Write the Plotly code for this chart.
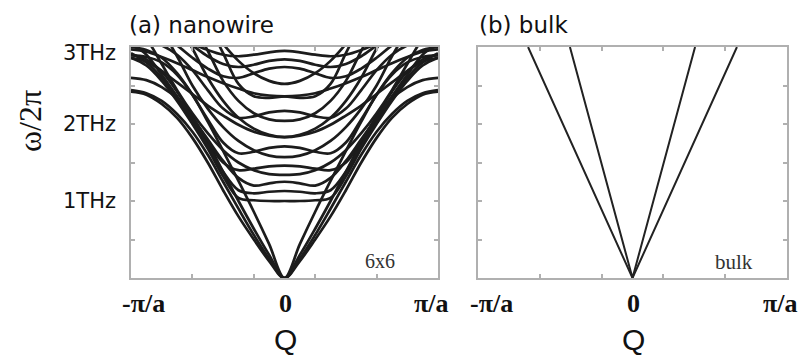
import plotly.graph_objects as go

# ---------------- data ----------------
# Wave vector (half zone, units of pi/a); branches are symmetric in Q
q_half = [0.0, 0.1, 0.2, 0.3, 0.4, 0.5, 0.6, 0.7, 0.8, 0.9, 1.0]

# (a) nanowire 6x6 : frequencies (THz) read at q_half
acoustic_1 = [0.00, 0.22, 0.50, 0.80, 1.14, 1.50, 1.82, 2.08, 2.26, 2.38, 2.42]
acoustic_1b = [0.00, 0.25, 0.56, 0.90, 1.25, 1.60, 1.90, 2.13, 2.30, 2.40, 2.44]
acoustic_2 = [0.00, 0.30, 0.64, 1.00, 1.38, 1.76, 2.08, 2.33, 2.48, 2.57, 2.60]
acoustic_3 = [0.00, 0.44, 0.86, 1.26, 1.65, 2.03, 2.38, 2.64, 2.80, 2.87, 2.89]
flat_1 = [1.00, 1.00, 1.01, 1.04, 1.32, 1.68, 2.00, 2.30, 2.56, 2.76, 2.86]
flat_2 = [1.71, 1.69, 1.64, 1.62, 1.76, 2.06, 2.38, 2.66, 2.86, 2.96, 3.00]
flat_3 = [2.17, 2.15, 2.10, 2.08, 2.20, 2.44, 2.70, 2.90, 3.02, 3.08, 3.10]
flat_4 = [1.46, 1.45, 1.42, 1.40, 1.50, 1.78, 2.10, 2.42, 2.68, 2.84, 2.90]
flat_5 = [1.13, 1.12, 1.10, 1.14, 1.38, 1.72, 2.04, 2.34, 2.60, 2.80, 2.92]
shallow_1 = [1.83, 1.85, 1.90, 1.99, 2.11, 2.24, 2.39, 2.54, 2.69, 2.81, 2.86]
shallow_2 = [2.36, 2.37, 2.40, 2.46, 2.53, 2.61, 2.70, 2.79, 2.87, 2.94, 2.97]
steep_a = [2.52, 2.56, 2.66, 2.82, 3.04, 3.30, 3.50, 3.60, 3.65, 3.70, 3.70]
steep_b = [2.36, 2.34, 2.36, 2.52, 2.92, 3.30, 3.55, 3.65, 3.70, 3.70, 3.70]
steep_c = [2.04, 2.06, 2.14, 2.30, 2.56, 2.95, 3.30, 3.50, 3.60, 3.65, 3.70]
steep_d = [1.83, 1.86, 1.94, 2.08, 2.30, 2.60, 2.98, 3.30, 3.50, 3.60, 3.65]
steep_e = [1.57, 1.59, 1.66, 1.78, 1.96, 2.20, 2.50, 2.88, 3.20, 3.40, 3.50]
steep_f = [1.34, 1.35, 1.40, 1.50, 1.66, 1.88, 2.14, 2.44, 2.78, 3.10, 3.25]
steep_g = [1.25, 1.23, 1.20, 1.30, 1.52, 1.80, 2.08, 2.36, 2.64, 2.90, 3.05]
top_1 = [2.74, 2.72, 2.66, 2.60, 2.62, 2.72, 2.86, 3.02, 3.15, 3.20, 3.20]
top_2 = [2.84, 2.82, 2.77, 2.74, 2.78, 2.88, 3.02, 3.15, 3.25, 3.30, 3.30]
top_3 = [2.95, 2.93, 2.90, 2.88, 2.90, 2.96, 3.04, 3.12, 3.20, 3.25, 3.25]

nanowire_branches = [
    acoustic_1, acoustic_1b, acoustic_2, acoustic_3,
    flat_1, flat_2, flat_3, flat_4, flat_5, shallow_1, shallow_2,
    steep_a, steep_b, steep_c, steep_d, steep_e, steep_f, steep_g,
    top_1, top_2, top_3,
]

# (b) bulk : linear branches through the origin
bulk_q_ta = [-0.676, 0.0, 0.676]
bulk_ta = [3.0, 0.0, 3.0]
bulk_q_la = [-0.405, 0.0, 0.405]
bulk_la = [3.0, 0.0, 3.0]

y_tick_vals = [0.5, 1.0, 1.5, 2.0, 2.5, 3.0]
y_tick_text = ["1THz", "2THz", "3THz"]
x_tick_vals = [-1.0, -0.6, -0.2, 0.2, 0.6, 1.0]
x_tick_text = ["-\u03c0/a", "0", "\u03c0/a"]

# ---------------- figure ----------------
W, H = 801, 358
fig = go.Figure()

q_full = [-v for v in q_half[::-1]] + q_half[1:]
for br in nanowire_branches:
    fig.add_trace(go.Scatter(
        x=q_full, y=br[::-1] + br[1:], mode="lines",
        line=dict(color="#1c1c1c", width=2.7, shape="spline", smoothing=1.0),
        xaxis="x", yaxis="y", showlegend=False, hoverinfo="skip"))

for qq, ww in [(bulk_q_ta, bulk_ta), (bulk_q_la, bulk_la)]:
    fig.add_trace(go.Scatter(
        x=qq, y=ww, mode="lines",
        line=dict(color="#222222", width=2.0),
        xaxis="x2", yaxis="y2", showlegend=False, hoverinfo="skip"))


def px(x):
    return x / W


def py(y):
    return 1 - y / H


axis_common = dict(
    showline=True, linecolor="#b0b0b0", linewidth=2, mirror="ticks",
    ticks="inside", ticklen=4, tickwidth=1.5, tickcolor="#b0b0b0",
    showgrid=False, zeroline=False, showticklabels=False, fixedrange=True)

fig.update_layout(
    width=W, height=H, autosize=False,
    margin=dict(l=0, r=0, t=0, b=0),
    paper_bgcolor="white", plot_bgcolor="white",
    xaxis=dict(domain=[px(131), px(438)], range=[-1, 1], tickvals=x_tick_vals, **axis_common),
    yaxis=dict(domain=[py(278), py(47)], range=[0, 3], tickvals=y_tick_vals, **axis_common),
    xaxis2=dict(domain=[px(478), px(787)], range=[-1, 1], tickvals=x_tick_vals, anchor="y2", **axis_common),
    yaxis2=dict(domain=[py(278), py(47)], range=[0, 3], tickvals=y_tick_vals, anchor="x2", **axis_common),
)

ann = []
sans = "DejaVu Sans"
serif = "Liberation Serif"

# titles
ann.append(dict(text="(a) nanowire", x=px(127), y=py(25), xanchor="left", yanchor="middle",
                font=dict(family=sans, size=23, color="#111")))
ann.append(dict(text="(b) bulk", x=px(477), y=py(25), xanchor="left", yanchor="middle",
                font=dict(family=sans, size=23, color="#111")))
# y tick labels
for txt, yc in zip(y_tick_text, [201, 124, 53]):
    ann.append(dict(text=txt, x=px(118), y=py(yc), xanchor="right", yanchor="middle",
                    font=dict(family=sans, size=21, color="#111")))
# y title
ann.append(dict(text="\u03c9/2\u03c0", x=px(30), y=py(121), xanchor="center", yanchor="middle",
                textangle=-90, font=dict(family=serif, size=32, color="#111")))
# x tick labels
for centers in ([143, 285, 431], [492, 633, 780]):
    for txt, xc in zip(x_tick_text, centers):
        ann.append(dict(text="<b>%s</b>" % txt, x=px(xc), y=py(303), xanchor="center", yanchor="middle",
                        font=dict(family=serif, size=26, color="#111")))
# x titles
for xc in (285, 633):
    ann.append(dict(text="Q", x=px(xc), y=py(339), xanchor="center", yanchor="middle",
                    font=dict(family="Liberation Sans", size=30, color="#111")))
# inner labels
ann.append(dict(text="6x6", x=px(380), y=py(261), xanchor="center", yanchor="middle",
                font=dict(family=serif, size=20, color="#333")))
ann.append(dict(text="bulk", x=px(734), y=py(262), xanchor="center", yanchor="middle",
                font=dict(family=serif, size=21, color="#333")))

for a in ann:
    a.update(xref="paper", yref="paper", showarrow=False)
fig.update_layout(annotations=ann)

fig.write_html("out.html")
